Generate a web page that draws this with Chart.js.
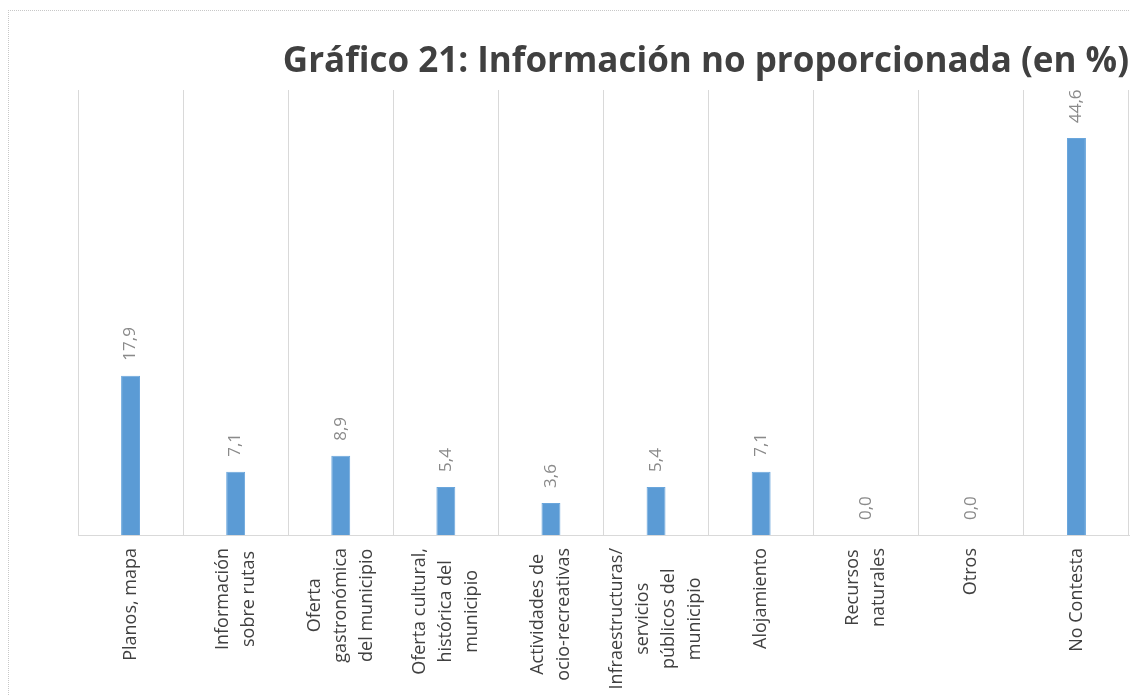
<!DOCTYPE html>
<html>
<head>
<meta charset="utf-8">
<script src="https://cdn.jsdelivr.net/npm/chart.js@4"></script>
<style>
    body { margin: 0; background: #fff; overflow: hidden; }
    #caja {
        position: absolute; left: 8px; top: 10px;
        width: 1386px; height: 730px;
        border-top: 1px dotted #c8c8c8; border-left: 1px dotted #c8c8c8;
    }
</style>
</head>
<body>
<div id="caja"><canvas id="grafico" width="1386" height="730"></canvas></div>
<script>
const titulo = "Gráfico 21: Información no proporcionada (en %)";

const categorias = [
    ["Planos, mapa"],
    ["Información", "sobre rutas"],
    ["Oferta", "gastronómica", "del municipio"],
    ["Oferta cultural,", "histórica del", "municipio"],
    ["Actividades de", "ocio-recreativas"],
    ["Infraestructuras/", "servicios", "públicos del", "municipio"],
    ["Alojamiento"],
    ["Recursos", "naturales"],
    ["Otros"],
    ["No Contesta"]
];

const valores = [17.9, 7.1, 8.9, 5.4, 3.6, 5.4, 7.1, 0.0, 0.0, 44.6];

const FUENTE = "'Open Sans', 'DejaVu Sans', sans-serif";

// etiquetas rotadas: valores sobre las barras y categorias bajo el eje
const etiquetas = {
    id: "etiquetas",
    afterDraw(chart) {
        const ctx = chart.ctx;
        const xs = chart.scales.x;
        const meta = chart.getDatasetMeta(0);
        const base = chart.chartArea.bottom;

        ctx.save();
        // valores
        ctx.font = "17px " + FUENTE;
        ctx.fillStyle = "#8a8a8a";
        ctx.textAlign = "left";
        ctx.textBaseline = "middle";
        meta.data.forEach((bar, i) => {
            ctx.save();
            ctx.translate(bar.x, bar.y - 15);
            ctx.rotate(-Math.PI / 2);
            ctx.fillText(valores[i].toFixed(1).replace(".", ","), 0, 0);
            ctx.restore();
        });

        // categorias
        ctx.font = "18px " + FUENTE;
        ctx.fillStyle = "#404040";
        ctx.textAlign = "center";
        const lh = 26;
        categorias.forEach((lineas, i) => {
            const x = xs.getPixelForValue(i);
            const ancho = Math.max(...lineas.map(l => ctx.measureText(l).width));
            ctx.save();
            ctx.translate(x, base + 13);
            ctx.rotate(-Math.PI / 2);
            lineas.forEach((l, j) => {
                ctx.fillText(l, -ancho / 2, (j - (lineas.length - 1) / 2) * lh);
            });
            ctx.restore();
        });
        ctx.restore();
    }
};

new Chart(document.getElementById("grafico"), {
    type: "bar",
    data: {
        labels: categorias,
        datasets: [{
            data: valores,
            backgroundColor: "#5b9bd5",
            borderColor: "#6aa6dc",
            borderWidth: 1,
            categoryPercentage: 1,
            barPercentage: 0.18
        }]
    },
    options: {
        responsive: false,
        animation: false,
        layout: { padding: { left: 69, right: 266, top: 0, bottom: 206 } },
        plugins: {
            legend: { display: false },
            tooltip: { enabled: false },
            title: {
                display: true,
                text: titulo,
                align: "end",
                color: "#404040",
                font: { family: FUENTE, size: 35, weight: "bold" },
                padding: { top: 30, bottom: 7 }
            }
        },
        scales: {
            x: {
                grid: { color: "#d9d9d9", drawTicks: false, offset: true },
                border: { color: "#d9d9d9" },
                ticks: { display: false }
            },
            y: {
                display: false,
                min: 0,
                max: 50
            }
        }
    },
    plugins: [etiquetas]
});
</script>
</body>
</html>
